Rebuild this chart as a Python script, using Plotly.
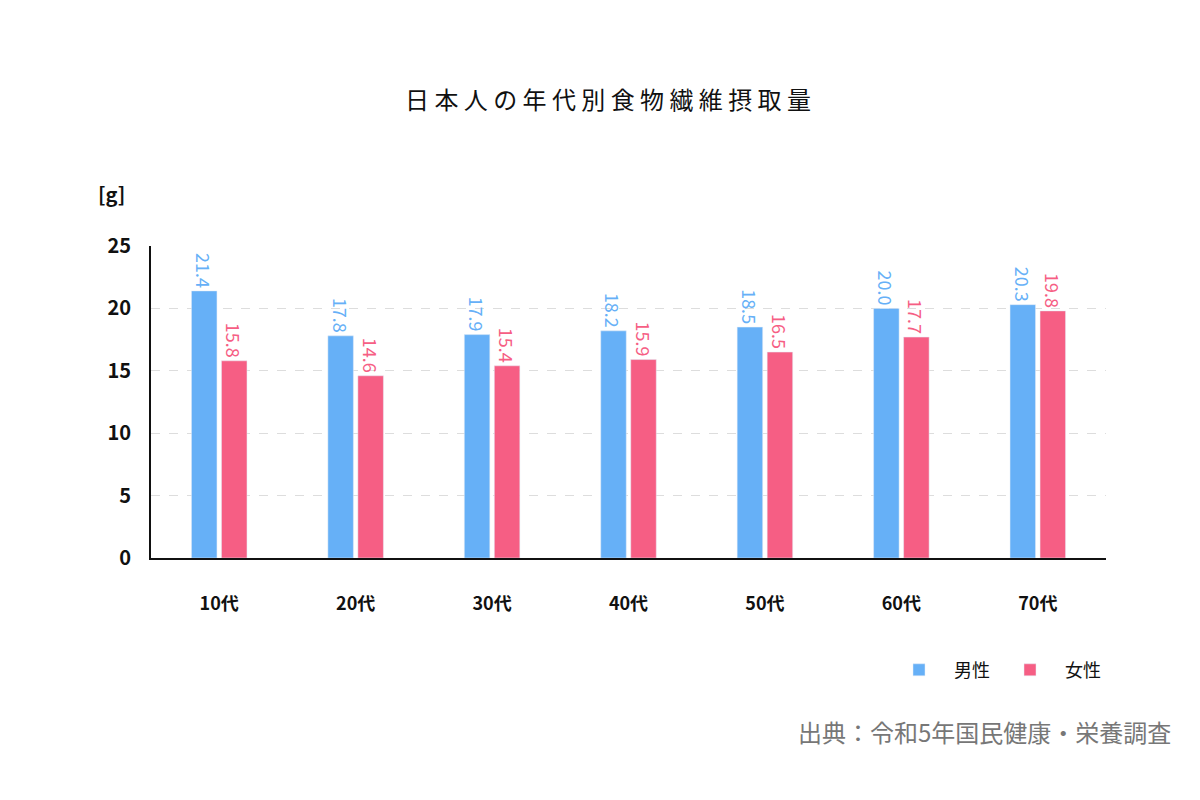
import plotly.graph_objects as go

categories = ["10代", "20代", "30代", "40代", "50代", "60代", "70代"]
male = [21.4, 17.8, 17.9, 18.2, 18.5, 20.0, 20.3]
female = [15.8, 14.6, 15.4, 15.9, 16.5, 17.7, 19.8]
yticks = [0, 5, 10, 15, 20, 25]

F = "Noto Sans CJK JP"
blue = "#66b0f7"
pink = "#f65e84"

fig = go.Figure()
for name, vals, col in [("男性", male, blue), ("女性", female, pink)]:
    fig.add_trace(go.Bar(
        x=categories, y=vals, name=name, marker_color=col,
        text=[f"{v:.1f}" for v in vals], textposition="outside",
        textangle=90, textfont=dict(color=col, size=18, family=F),
        constraintext="none", cliponaxis=False,
    ))

fig.update_layout(
    width=1200, height=800, plot_bgcolor="white", paper_bgcolor="white",
    font=dict(family=F, color="#111"),
    title=dict(text="日 本 人 の 年 代 別 食 物 繊 維 摂 取 量", x=0.5, xanchor="center", y=0.895,
               font=dict(size=24, family=F, color="#111")),
    margin=dict(l=143, r=102, t=238, b=250),
    barmode="group", bargap=0.56, bargroupgap=0.15,
    legend=dict(orientation="h", x=1.0, xanchor="right", y=-0.3, yanchor="top",
                font=dict(size=18, family=F), itemwidth=60, traceorder="normal"),
    showlegend=True,
)
fig.update_xaxes(showline=True, linecolor="#111", linewidth=2, ticks="",
                 tickfont=dict(size=18, family=F, weight="bold"), ticklabelstandoff=28)
fig.update_yaxes(range=[0, 25], tickvals=yticks, showline=True, linecolor="#111", linewidth=2,
                 showgrid=True, gridcolor="#dddddd", griddash="dash", zeroline=False,
                 tickfont=dict(size=20, family=F, weight="bold"), ticklabelstandoff=14)
fig.add_annotation(text="[g]", xref="paper", yref="paper", x=-0.058, y=1.22, showarrow=False,
                   font=dict(size=20, family=F, weight="bold"))
fig.add_annotation(text="出典：令和5年国民健康・栄養調査", xref="paper", yref="paper",
                   x=1.07, xanchor="right", y=-0.62, showarrow=False,
                   font=dict(size=24, family=F, color="#777"))
fig.write_html("out.html")
